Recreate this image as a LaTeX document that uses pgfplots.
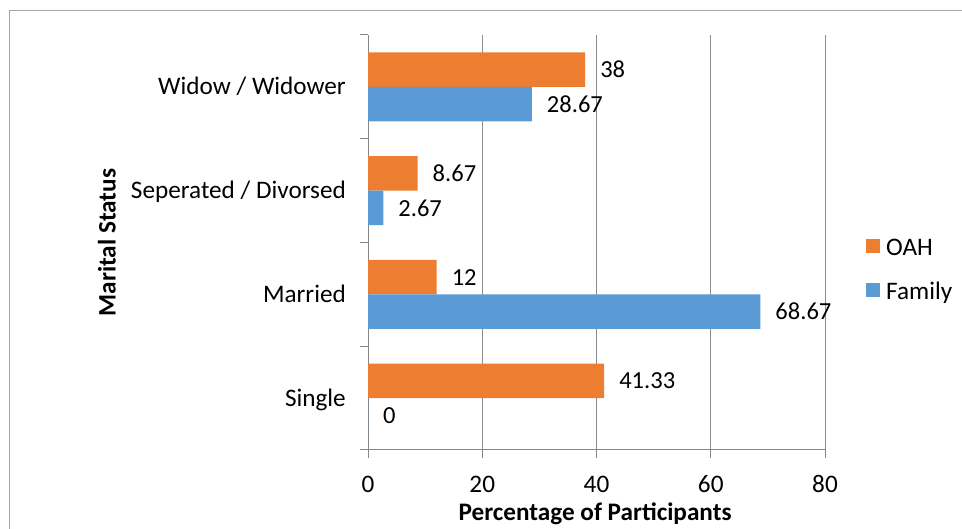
\documentclass[border=0pt]{standalone}
\usepackage{pgfplots}
\pgfplotsset{compat=1.18}
\usepackage{fontspec}
\setmainfont{Carlito}
\definecolor{oah}{HTML}{ED7D31}
\definecolor{fam}{HTML}{5B9BD5}
\definecolor{axgray}{HTML}{868686}
\definecolor{grd}{HTML}{8C8C8C}
\definecolor{frame}{HTML}{A6A6A6}
\newcommand{\fs}{\fontsize{25.3}{30}\selectfont}
\begin{document}
\begin{tikzpicture}[x=1bp,y=1bp]
\useasboundingbox (0,0) rectangle (962,529);
\draw[color=frame, line width=1bp] (9.5,0) -- (9.5,518.5) -- (962,518.5);
\begin{axis}[
  at={(368bp,79bp)}, anchor=south west,
  scale only axis, width=457bp, height=415bp,
  xbar, bar width=34.6bp,
  xmin=0, xmax=80, ymin=-0.5, ymax=3.5,
  axis x line*=bottom, axis y line*=left,
  axis line style={axgray, line width=1bp},
  xtick={0,20,40,60,80},
  ytick={-0.5,0.5,1.5,2.5,3.5},
  yticklabels={},
  extra y ticks={0,1,2,3},
  extra y tick labels={Single, Married, Seperated / Divorsed, Widow / Widower},
  extra y tick style={major tick length=0pt, grid=none},
  tick align=outside, major tick length=8bp,
  tick style={axgray, line width=1bp},
  xmajorgrids, grid style={grd, line width=1bp},
  /pgf/number format/assume math mode=true,
  tick label style={font=\fs},
  yticklabel style={anchor=base east, inner sep=0pt, xshift=-22bp, yshift=-8bp},
  xticklabel style={anchor=base, inner sep=0pt, yshift=-34.5bp},
  xlabel={Percentage of Participants},
  ylabel={Marital Status},
  label style={font=\bfseries\fs},
  xlabel style={at={(axis description cs:0.497,-0.1687)}, anchor=base},
  ylabel style={at={(axis description cs:-0.5525,0.5)}, anchor=base},
  nodes near coords,
  nodes near coords style={font=\fontsize{24.6}{29}\selectfont, anchor=west, inner sep=0pt, xshift=15bp,
    /pgf/number format/fixed, /pgf/number format/precision=2},
  legend style={at={(1.0897,0.4316)}, anchor=west, draw=none, fill=none, inner sep=0pt,
    font=\fs, nodes={inner sep=0pt, text height=18bp, text depth=5bp},
    column sep=6bp, row sep=21bp},
  legend cell align=left,
  clip=false,
]
\addplot[fill=oah, draw=none, bar shift=17.3bp,
  legend image code/.code={\fill[oah] (0bp,-4.5bp) rectangle (14bp,9.5bp);}]
  coordinates {(41.33,0) (12,1) (8.67,2) (38,3)};
\addlegendentry{OAH}
\addplot[fill=fam, draw=none, bar shift=-17.3bp,
  legend image code/.code={\fill[fam] (0bp,-4.5bp) rectangle (14bp,9.5bp);}]
  coordinates {(0,0) (68.67,1) (2.67,2) (28.67,3)};
\addlegendentry{Family}
\end{axis}
\end{tikzpicture}
\end{document}
